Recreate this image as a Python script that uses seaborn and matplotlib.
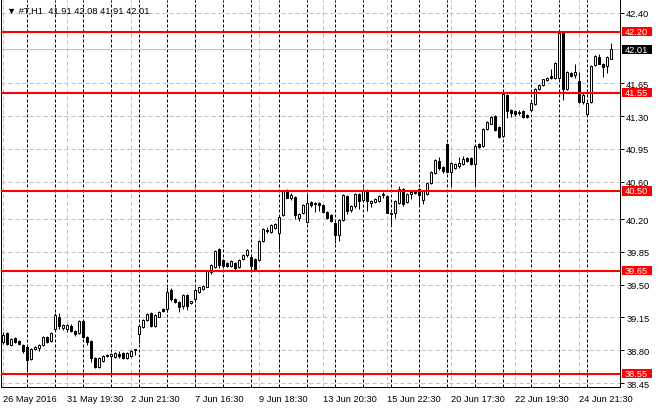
import matplotlib
matplotlib.use('Agg')
import matplotlib.pyplot as plt
import matplotlib.transforms as mtransforms
from matplotlib.patches import Rectangle
import numpy as np
import pandas as pd
import seaborn as sns

# 数据: #T H1 (2016-05-26 17:30 .. 2016-06-27 22:30)
trade_days = ['2016-05-26', '2016-05-27', '2016-05-31', '2016-06-01', '2016-06-02',
              '2016-06-03', '2016-06-06', '2016-06-07', '2016-06-08', '2016-06-09',
              '2016-06-10', '2016-06-13', '2016-06-14', '2016-06-15', '2016-06-16',
              '2016-06-17', '2016-06-20', '2016-06-21', '2016-06-22', '2016-06-23',
              '2016-06-24', '2016-06-27']
bar_hours = ['16:30', '17:30', '18:30', '19:30', '20:30', '21:30', '22:30']

opens = [38.89, 38.98, 38.86, 38.93, 38.90, 38.86, 38.83, 38.71, 38.81, 38.82,
         38.86, 38.94, 38.90, 39.03, 39.16, 39.04, 39.03, 39.06, 39.01, 38.98,
         39.11, 38.94, 38.90, 38.72, 38.62, 38.69, 38.74, 38.74, 38.725, 38.76,
         38.77, 38.72, 38.74, 38.80, 38.97, 39.05, 39.12, 39.20, 39.06, 39.16,
         39.24, 39.24, 39.44, 39.35, 39.32, 39.27, 39.39, 39.30, 39.35, 39.42,
         39.45, 39.48, 39.63, 39.69, 39.88, 39.76, 39.73, 39.70, 39.73, 39.69,
         39.77, 39.82, 39.80, 39.77, 39.76, 39.97, 40.08, 40.06, 40.10, 40.05,
         40.24, 40.50, 40.42, 40.44, 40.21, 40.26, 40.17, 40.38, 40.36, 40.37,
         40.35, 40.28, 40.24, 40.16, 40.03, 40.19, 40.45, 40.30, 40.34, 40.47,
         40.40, 40.51, 40.37, 40.38, 40.39, 40.46, 40.45, 40.25, 40.26, 40.37,
         40.52, 40.38, 40.47, 40.50, 40.52, 40.40, 40.47, 40.59, 40.69, 40.82,
         40.76, 41.00, 40.70, 40.74, 40.77, 40.79, 40.85, 40.85, 40.79, 41.00,
         40.98, 41.16, 41.22, 41.30, 41.18, 41.09, 41.52, 41.36, 41.35, 41.33,
         41.35, 41.31, 41.36, 41.43, 41.59, 41.63, 41.68, 41.73, 41.71, 41.71,
         42.19, 41.59, 41.76, 41.74, 41.67, 41.45, 41.32, 41.45, 41.84, 41.93,
         41.86, 41.83, 41.91]
highs = [38.99, 38.99, 38.93, 38.94, 38.91, 38.87, 38.86, 38.82, 38.85, 38.87,
         38.95, 38.95, 38.99, 39.20, 39.20, 39.08, 39.08, 39.08, 39.02, 39.12,
         39.12, 38.95, 38.91, 38.73, 38.73, 38.75, 38.76, 38.77, 38.78, 38.79,
         38.78, 38.78, 38.80, 38.81, 39.08, 39.13, 39.20, 39.21, 39.19, 39.22,
         39.25, 39.47, 39.46, 39.36, 39.33, 39.40, 39.40, 39.33, 39.46, 39.48,
         39.50, 39.66, 39.72, 39.87, 39.89, 39.77, 39.74, 39.76, 39.74, 39.77,
         39.83, 39.88, 39.83, 39.78, 39.98, 40.10, 40.12, 40.15, 40.16, 40.23,
         40.51, 40.52, 40.48, 40.45, 40.27, 40.36, 40.48, 40.39, 40.38, 40.38,
         40.36, 40.29, 40.25, 40.17, 40.20, 40.47, 40.46, 40.35, 40.48, 40.48,
         40.53, 40.52, 40.40, 40.42, 40.46, 40.49, 40.46, 40.28, 40.40, 40.55,
         40.53, 40.48, 40.50, 40.51, 40.53, 40.51, 40.60, 40.71, 40.84, 40.86,
         40.77, 41.01, 40.81, 40.80, 40.86, 40.87, 40.86, 40.86, 40.99, 41.01,
         41.17, 41.25, 41.30, 41.31, 41.19, 41.56, 41.53, 41.37, 41.36, 41.36,
         41.36, 41.32, 41.45, 41.60, 41.64, 41.70, 41.72, 41.80, 41.88, 42.21,
         42.20, 41.78, 41.77, 41.86, 41.77, 41.56, 41.45, 41.84, 41.95, 41.96,
         41.87, 41.94, 42.08]
lows = [38.87, 38.86, 38.85, 38.88, 38.86, 38.77, 38.59, 38.70, 38.80, 38.79,
        38.85, 38.88, 38.89, 39.01, 39.03, 39.02, 39.00, 38.99, 38.95, 38.97,
        38.93, 38.86, 38.67, 38.61, 38.61, 38.68, 38.73, 38.56, 38.72, 38.72,
        38.71, 38.71, 38.73, 38.75, 38.88, 39.04, 39.11, 39.05, 39.05, 39.15,
        39.21, 39.21, 39.33, 39.30, 39.21, 39.24, 39.23, 39.29, 39.31, 39.41,
        39.44, 39.47, 39.61, 39.68, 39.68, 39.68, 39.69, 39.69, 39.66, 39.68,
        39.76, 39.80, 39.66, 39.66, 39.75, 39.96, 40.05, 40.05, 40.09, 39.88,
        40.23, 40.42, 40.40, 40.20, 40.18, 40.25, 40.16, 40.33, 40.28, 40.29,
        40.27, 40.20, 40.17, 39.94, 39.97, 40.18, 40.25, 40.28, 40.32, 40.31,
        40.38, 40.29, 40.33, 40.37, 40.38, 40.43, 40.26, 40.13, 40.21, 40.36,
        40.34, 40.37, 40.41, 40.47, 40.34, 40.36, 40.46, 40.57, 40.68, 40.72,
        40.69, 40.69, 40.54, 40.73, 40.75, 40.78, 40.81, 40.78, 40.56, 40.96,
        40.97, 41.15, 41.21, 41.14, 41.07, 41.08, 41.28, 41.29, 41.30, 41.31,
        41.28, 41.28, 41.35, 41.42, 41.58, 41.62, 41.67, 41.70, 41.70, 41.70,
        41.47, 41.58, 41.72, 41.71, 41.44, 41.43, 41.30, 41.44, 41.83, 41.85,
        41.72, 41.76, 41.91]
closes = [38.96, 38.87, 38.92, 38.89, 38.87, 38.79, 38.70, 38.81, 38.84, 38.86,
          38.94, 38.89, 38.98, 39.18, 39.06, 39.07, 39.07, 39.01, 38.97, 39.11,
          38.94, 38.89, 38.72, 38.62, 38.72, 38.74, 38.75, 38.76, 38.77, 38.74,
          38.72, 38.77, 38.79, 38.81, 39.06, 39.12, 39.19, 39.06, 39.18, 39.21,
          39.22, 39.42, 39.35, 39.32, 39.26, 39.39, 39.27, 39.33, 39.44, 39.47,
          39.49, 39.65, 39.71, 39.86, 39.71, 39.70, 39.70, 39.75, 39.68, 39.76,
          39.82, 39.87, 39.70, 39.67, 39.97, 40.09, 40.07, 40.14, 40.15, 40.22,
          40.50, 40.43, 40.46, 40.24, 40.25, 40.35, 40.37, 40.35, 40.37, 40.35,
          40.28, 40.21, 40.18, 40.03, 40.19, 40.46, 40.29, 40.34, 40.47, 40.39,
          40.51, 40.39, 40.39, 40.41, 40.45, 40.47, 40.27, 40.27, 40.39, 40.52,
          40.36, 40.47, 40.49, 40.48, 40.46, 40.50, 40.59, 40.70, 40.83, 40.74,
          40.71, 40.70, 40.80, 40.79, 40.80, 40.84, 40.82, 40.79, 40.98, 40.97,
          41.16, 41.24, 41.29, 41.15, 41.08, 41.54, 41.35, 41.33, 41.32, 41.34,
          41.29, 41.29, 41.44, 41.59, 41.63, 41.69, 41.71, 41.71, 41.87, 42.19,
          41.59, 41.77, 41.73, 41.77, 41.45, 41.52, 41.44, 41.83, 41.94, 41.86,
          41.82, 41.93, 42.01]

levels = [42.20, 41.55, 40.50, 39.65, 38.55]
bid = 42.01
price_ticks = [42.40, 41.65, 41.30, 40.95, 40.60, 40.20, 39.85, 39.50, 39.15, 38.80, 38.45]
header = '\u25bc #T,H1  41.91 42.08 41.91 42.01'

# 时间序列
times = [pd.Timestamp(d + ' ' + h) for d in trade_days for h in bar_hours][1:]
df = pd.DataFrame({'time': times, 'open': opens, 'high': highs,
                   'low': lows, 'close': closes})
x = np.arange(len(df))
up = (df['close'] >= df['open']).to_numpy()
bottom = np.minimum(df['open'], df['close']).to_numpy()
height = np.abs(df['close'] - df['open']).to_numpy()

sns.set_theme(style='white')
plt.rcParams['font.family'] = ['Liberation Sans', 'DejaVu Sans']
FS = 6.7
LW = 0.72  # 1 px

fig = plt.figure(figsize=(6.6, 4.1), dpi=100)
fig.patch.set_facecolor('white')
ax = fig.add_axes([1 / 660, 22 / 410, 619 / 660, 387 / 410])
ax.set_facecolor('white')
ax.set_xlim(-0.575, 154.2)
ax.set_ylim(38.408, 42.538)

# 网格线
tick_idx = list(range(0, len(df), 16))
for p in price_ticks:
    ax.axhline(p, color='#c0c0c0', lw=LW, ls=(0, (4, 3)), zorder=0.5)
for i in tick_idx:
    ax.axvline(i, color='#c0c0c0', lw=LW, ls=(0, (4, 3)), zorder=0.5)

# 日分隔线
day = df['time'].dt.date
for i in np.where(day.ne(day.shift()).to_numpy())[0][1:]:
    ax.axvline(i, color='black', lw=LW, ls=(0, (3, 2)), zorder=0.6)

# Bid 线
ax.axhline(bid, color='#c0c0c0', lw=LW, zorder=0.7)

# 蜡烛图
ax.vlines(x, df['low'], df['high'], color='black', lw=LW, zorder=3)
ax.bar(x[up], height[up], bottom=bottom[up], width=0.5, color='white',
       edgecolor='black', linewidth=LW, zorder=4)
ax.bar(x[~up], height[~up], bottom=bottom[~up], width=0.5, color='black',
       edgecolor='black', linewidth=LW, zorder=4)

# 水平线
for lv in levels:
    ax.axhline(lv, color='#ff0000', lw=1.5, zorder=5)

# 坐标轴
for side in ['left', 'right', 'bottom']:
    ax.spines[side].set_color('black')
    ax.spines[side].set_linewidth(LW)
ax.spines['top'].set_visible(False)
ax.yaxis.tick_right()
ax.set_yticks(price_ticks)
ax.set_yticklabels(['%.2f' % p for p in price_ticks])
ax.set_xticks(tick_idx)
labels = []
for k, i in enumerate(tick_idx):
    t = df['time'][i]
    if k == 0:
        labels.append('%d %s' % (t.day, t.strftime('%b %Y')))
    else:
        labels.append('%d %s' % (t.day, t.strftime('%b %H:%M')))
ax.set_xticklabels(labels, ha='left')
ax.tick_params(axis='both', which='both', length=3, width=LW, color='black',
               labelsize=FS, labelcolor='black', pad=1.5)
ax.tick_params(axis='x', pad=2)
for lab in ax.get_xticklabels():
    lab.set_horizontalalignment('left')

# 右侧价格标签
trans = mtransforms.blended_transform_factory(ax.transAxes, ax.transData)
box_w = 30 / 619
box_h = 9.5 / 93.7
for val, col in [(lv, '#ff0000') for lv in levels] + [(bid, 'black')]:
    ax.add_patch(Rectangle((1 + 1.5 / 619, val - box_h / 2), box_w, box_h,
                           transform=trans, facecolor=col, edgecolor='none',
                           clip_on=False, zorder=6))
    ax.text(1 + 1.5 / 619 + box_w / 2, val, '%.2f' % val, transform=trans,
            color='white', fontsize=FS, ha='center', va='center',
            clip_on=False, zorder=7)

# 标题
fig.text(7 / 660, 1 - 11 / 410, header, fontsize=FS, va='center', color='black')

plt.savefig('out.png', dpi=100)
